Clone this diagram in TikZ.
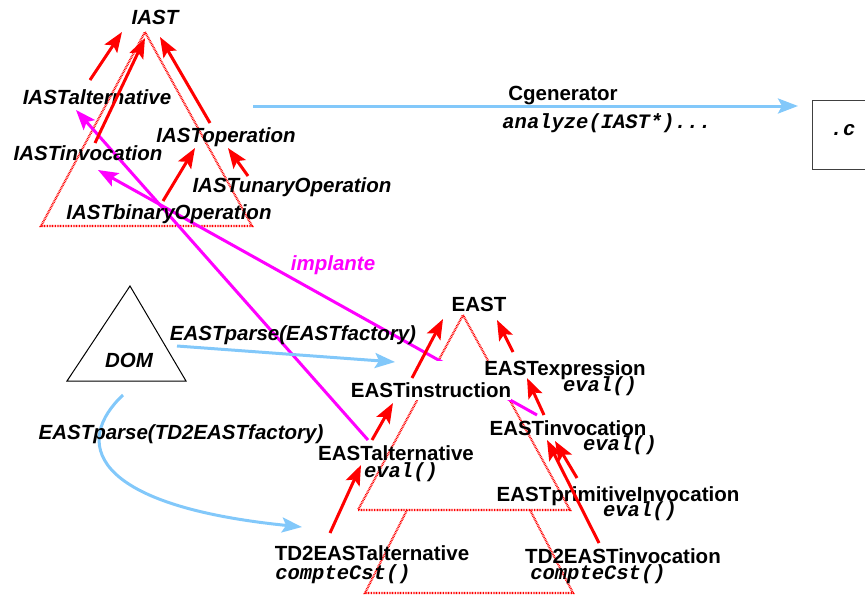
\documentclass[tikz,border=0pt]{standalone}
\usepackage{fontspec}
\setmainfont{Liberation Sans}
\newfontfamily\codefont{Liberation Mono}
\usetikzlibrary{arrows.meta}

\definecolor{flowblue}{RGB}{130,200,250}
\definecolor{implmag}{RGB}{255,0,255}

\tikzset{
  lab/.style={inner sep=0pt, text height=14.5pt, text depth=0pt,
    font=\fontsize{20.5}{24}\selectfont\bfseries},
  ilab/.style={lab, font=\fontsize{20.5}{24}\selectfont\bfseries\itshape},
  code/.style={inner sep=0pt, text height=11pt, text depth=0pt,
    font=\fontsize{20.5}{24}\selectfont\codefont\bfseries\itshape},
  head/.style={-{Stealth[length=20pt,width=15pt,inset=4pt]}},
  inherit/.style={head, draw=red, line width=3pt},
  implant/.style={head, draw=implmag, line width=3pt},
  flow/.style={head, draw=flowblue, line width=3pt},
  family/.style={draw=red, line width=2.2pt, dash pattern=on 0.8pt off 0.8pt},
}

\begin{document}
\begin{tikzpicture}[x=1pt,y=-1pt]
\useasboundingbox (0,0) rectangle (865,595);

% class hierarchies as dotted triangles
\draw[family] (145,32) -- (252,226) -- (41,226) -- cycle;
\draw[family] (463,315) -- (570,510) -- (358,510) -- cycle;
\draw[family] (407,510) -- (365,593) -- (573,593) -- (530,510);

% DOM tree
\draw[line width=1pt] (130,286) -- (186,381) -- (67,381) -- cycle;
\node[ilab] (dom) at (129,360) {DOM};

% output file
\draw[line width=1pt, black!75] (812,100) rectangle (880,169);
\node[code] (cfile) at (843,130) {.c};

% end points of the connectors
\coordinate (iastA)  at (122,32);
\coordinate (iastB)  at (145,38);
\coordinate (iastC)  at (160,37);
\coordinate (ialtS)  at (90,80);
\coordinate (iinvS)  at (95,143);
\coordinate (iopS)   at (210,123);
\coordinate (iopA)   at (195,148);
\coordinate (iopB)   at (228,148);
\coordinate (ibinS)  at (163,201);
\coordinate (iunS)   at (248,176);
\coordinate (ialtT)  at (76,110);
\coordinate (iinvT)  at (98,170);

\coordinate (eastA)  at (443,319);
\coordinate (eastB)  at (497,320);
\coordinate (einsS)  at (412,378);
\coordinate (einsT)  at (393,403);
\coordinate (eexpS)  at (513,352);
\coordinate (eexpT)  at (527,378);
\coordinate (einvS)  at (544,415);
\coordinate (einvM)  at (537,415);
\coordinate (einvA)  at (555,441);
\coordinate (einvB)  at (547,440);
\coordinate (ealtS)  at (372,440);
\coordinate (ealtM)  at (368,440);
\coordinate (ealtT)  at (361,465);
\coordinate (eprimS) at (577,478);
\coordinate (tinvS)  at (599,543);
\coordinate (taltS)  at (330,533);

\coordinate (genS)   at (253,106);
\coordinate (genT)   at (798,106);
\coordinate (domA)   at (177,346);
\coordinate (domAT)  at (395,362);
\coordinate (domB)   at (123,395);
\coordinate (domBT)  at (302,527);

% implementation links
\draw[implant] (ealtM) -- (ialtT);
\draw[implant] (einvM) -- (iinvT);
\node[ilab, text=implmag] (impl) at (333,263) {implante};

% the instruction label masks what lies behind it
\node[lab, fill=white, anchor=base, text height=36pt, text depth=3pt]
  (eins) at (431,397) {EASTinstruction};

% parsing and generation
\draw[flow] (genS) -- (genT);
\draw[flow] (domA) -- (domAT);
\draw[flow] (domB) .. controls (75,440) and (85,505) .. (domBT);

\node[lab] (cgen) at (563,93) {Cgenerator};
\node[code] (analyze) at (607,123) {analyze(IAST*)...};
\node[ilab] (parse1) at (293,333) {EASTparse(EASTfactory)};
\node[ilab] (parse2) at (181,432) {EASTparse(TD2EASTfactory)};

% interface classes
\node[ilab] (iast) at (155,17) {IAST};
\node[ilab] (ialt) at (97,97) {IASTalternative};
\node[ilab] (iinv) at (88,153) {IASTinvocation};
\node[ilab] (iop)  at (226,135) {IASToperation};
\node[ilab] (iun)  at (292,185) {IASTunaryOperation};
\node[ilab] (ibin) at (169,212) {IASTbinaryOperation};

% evaluable classes
\node[lab] (east) at (479,304) {EAST};
\node[lab] (eexp) at (565,368) {EASTexpression};
\node[code] (eexpm) at (600,386) {eval()};
\node[lab] (einv) at (568,428) {EASTinvocation};
\node[code] (einvm) at (620,445) {eval()};
\node[lab] (ealt) at (396,453) {EASTalternative};
\node[code] (ealtm) at (401,472) {eval()};
\node[lab] (eprim) at (618,494) {EASTprimitiveInvocation};
\node[code] (eprimm) at (640,511) {eval()};
\node[lab] (talt) at (372,553) {TD2EASTalternative};
\node[code] (taltm) at (343,574) {compteCst()};
\node[lab] (tinv) at (623,556) {TD2EASTinvocation};
\node[code] (tinvm) at (598,574) {compteCst()};

% inheritance
\draw[inherit] (ialtS) -- (iastA);
\draw[inherit] (iinvS) -- (iastB);
\draw[inherit] (iopS) -- (iastC);
\draw[inherit] (ibinS) -- (iopA);
\draw[inherit] (iunS) -- (iopB);

\draw[inherit] (einsS) -- (eastA);
\draw[inherit] (eexpS) -- (eastB);
\draw[inherit] (einvS) -- (eexpT);
\draw[inherit] (ealtS) -- (einsT);
\draw[inherit] (eprimS) -- (einvA);
\draw[inherit] (tinvS) -- (einvB);
\draw[inherit] (taltS) -- (ealtT);
\end{tikzpicture}
\end{document}
